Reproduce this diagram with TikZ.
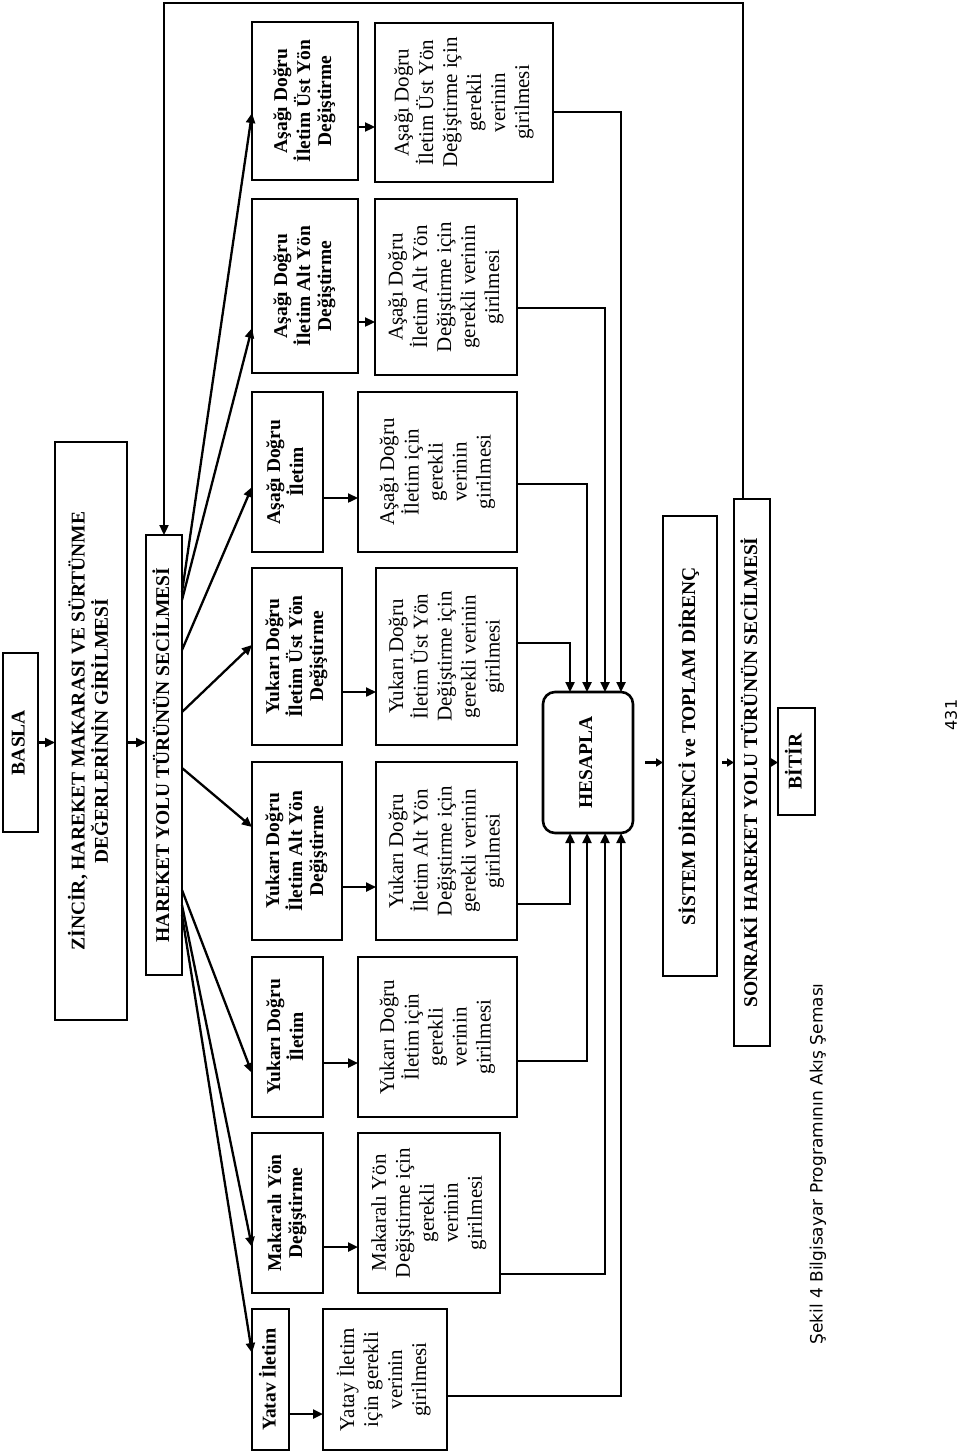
\documentclass[tikz,border=0pt]{standalone}
\usepackage{fontspec}
\setmainfont{Liberation Serif}
\newfontfamily\capfont{DejaVu Sans}
\usetikzlibrary{arrows.meta,calc}
\newcommand{\hdtxt}[1]{\rotatebox{90}{\fontsize{19.5}{21}\selectfont\bfseries\begin{tabular}{@{}c@{}}#1\end{tabular}}}
\newcommand{\dattxt}[1]{\rotatebox{90}{\fontsize{21}{24}\selectfont\begin{tabular}{@{}c@{}}#1\end{tabular}}}
\begin{document}
\begin{tikzpicture}[x=1pt,y=-1pt,
  box/.style={draw,line width=2.6pt,inner sep=0pt,outer sep=0pt},
  arr/.style={line width=2.3pt,-{Triangle[length=10pt,width=9pt]}},
  sarr/.style={line width=2.3pt,-{Triangle[length=7pt,width=8pt]}}]
\useasboundingbox (0,0) rectangle (960,1453);

% column 1
\node[box,minimum width=35pt,minimum height=179pt] (basla) at (20.5,742.5) {\hdtxt{BASLA}};
\node[box,minimum width=72pt,minimum height=578pt] (zincir) at (91,731) {\hdtxt{ZİNCİR, HAREKET MAKARASI VE SÜRTÜNME\\DEĞERLERİNİN GİRİLMESİ}};
\node[box,minimum width=36pt,minimum height=440pt] (hareket) at (164,755) {\hdtxt{HAREKET YOLU TÜRÜNÜN SECİLMESİ}};

% headers
\node[box,minimum width=106pt,minimum height=158pt] (h1) at (305,101) {\hdtxt{Aşağı Doğru\\İletim Üst Yön\\Değiştirme}};
\node[box,minimum width=106pt,minimum height=174pt] (h2) at (305,286) {\hdtxt{Aşağı Doğru\\İletim Alt Yön\\Değiştirme}};
\node[box,minimum width=71pt,minimum height=160pt] (h3) at (287.5,472) {\hdtxt{Aşağı Doğru\\İletim}};
\node[box,minimum width=90pt,minimum height=177pt] (h4) at (297,656.5) {\hdtxt{Yukarı Doğru\\İletim Üst Yön\\Değiştirme}};
\node[box,minimum width=90pt,minimum height=178pt] (h5) at (297,851) {\hdtxt{Yukarı Doğru\\İletim Alt Yön\\Değiştirme}};
\node[box,minimum width=71pt,minimum height=160pt] (h6) at (287.5,1037) {\hdtxt{Yukarı Doğru\\İletim}};
\node[box,minimum width=71pt,minimum height=160pt] (h7) at (287.5,1213) {\hdtxt{Makaralı Yön\\Değiştirme}};
\node[box,minimum width=37pt,minimum height=141pt] (h8) at (270.5,1379.5) {\hdtxt{Yatav İletim}};

% data boxes
\node[box,minimum width=178pt,minimum height=159pt] (d1) at (464,102.5) {\dattxt{Aşağı Doğru\\İletim Üst Yön\\Değiştirme için\\gerekli\\verinin\\girilmesi}};
\node[box,minimum width=142pt,minimum height=176pt] (d2) at (446,287) {\dattxt{Aşağı Doğru\\İletim Alt Yön\\Değiştirme için\\gerekli verinin\\girilmesi}};
\node[box,minimum width=159pt,minimum height=160pt] (d3) at (437.5,472) {\dattxt{Aşağı Doğru\\İletim için\\gerekli\\verinin\\girilmesi}};
\node[box,minimum width=141pt,minimum height=177pt] (d4) at (446.5,656.5) {\dattxt{Yukarı Doğru\\İletim Üst Yön\\Değiştirme için\\gerekli verinin\\girilmesi}};
\node[box,minimum width=141pt,minimum height=178pt] (d5) at (446.5,851) {\dattxt{Yukarı Doğru\\İletim Alt Yön\\Değiştirme için\\gerekli verinin\\girilmesi}};
\node[box,minimum width=159pt,minimum height=160pt] (d6) at (437.5,1037) {\dattxt{Yukarı Doğru\\İletim için\\gerekli\\verinin\\girilmesi}};
\node[box,minimum width=142pt,minimum height=160pt] (d7) at (429,1213) {\dattxt{Makaralı Yön\\Değiştirme için\\gerekli\\verinin\\girilmesi}};
\node[box,minimum width=124pt,minimum height=141pt] (d8) at (385,1379.5) {\dattxt{Yatay İletim\\için gerekli\\verinin\\girilmesi}};

% right part
\node[box,rounded corners=12pt,minimum width=90pt,minimum height=141pt] (hesapla) at (588,762.5) {\hdtxt{HESAPLA}};
\node[box,minimum width=54pt,minimum height=460pt] (sistem) at (690,746) {\hdtxt{SİSTEM DİRENCİ ve TOPLAM DİRENÇ}};
\node[box,minimum width=36pt,minimum height=547pt] (sonraki) at (752,772.5) {\hdtxt{SONRAKİ HAREKET YOLU TÜRÜNÜN SECİLMESİ}};
\node[box,minimum width=37pt,minimum height=107pt] (bitir) at (796.5,761.5) {\hdtxt{BİTİR}};

\node[inner sep=0pt] (cap) at (818,1164) {\rotatebox{90}{\capfont\fontsize{17}{20}\selectfont Şekil 4 Bilgisayar Programının Akış Şeması}};
\node[inner sep=0pt] (pg) at (951,715) {\rotatebox{90}{\capfont\fontsize{16}{19}\selectfont 431}};

% connectors
\draw[arr] (basla.east) -- (basla.east -| zincir.west);
\draw[arr] (zincir.east |- basla.east) -- (hareket.west |- basla.east);
\coordinate (topc) at (450,3);
\draw[arr] ([xshift=-9pt]sonraki.north) |- (topc) -| (hareket.north);

\foreach \s/\e/\h in {57/91/h1, 65/129/h2, 115/95/h3, 177/77/h4, 233/65/h5, 355/116/h6, 370/114/h7, 380/44/h8}
  \draw[arr] ($(hareket.north east)+(0,\s)$) -- ($(\h.north west)+(0,\e)$);

\foreach \h/\d/\o in {h1/d1/105, h2/d2/123, h3/d3/106, h4/d4/124, h5/d5/125, h6/d6/106, h7/d7/114, h8/d8/105}{
  \path ($(\h.north east)+(0,\o)$) coordinate (t);
  \draw[arr] (t) -- (t -| \d.west);
}

\foreach \d/\o/\x in {d1/89/78, d2/109/62, d3/92/44, d4/75/27}{
  \path ($(\d.north east)+(0,\o)$) coordinate (s) ($(hesapla.north west)+(\x,0)$) coordinate (q);
  \draw[arr] (s) -| (q);
}
\foreach \d/\o/\x in {d5/142/27, d6/104/44, d7/141/62, d8/87/78}{
  \path ($(\d.north east)+(0,\o)$) coordinate (s) ($(hesapla.south west)+(\x,0)$) coordinate (q);
  \draw[arr] (s) -| (q);
}

\draw[sarr, shorten <=12pt] (hesapla.east) -- (hesapla.east -| sistem.west);
\draw[sarr, shorten <=5pt] (sistem.east |- hesapla.east) -- (sonraki.west |- hesapla.east);
\draw[sarr] (sonraki.east |- hesapla.east) -- (bitir.west |- hesapla.east);
\end{tikzpicture}
\end{document}
